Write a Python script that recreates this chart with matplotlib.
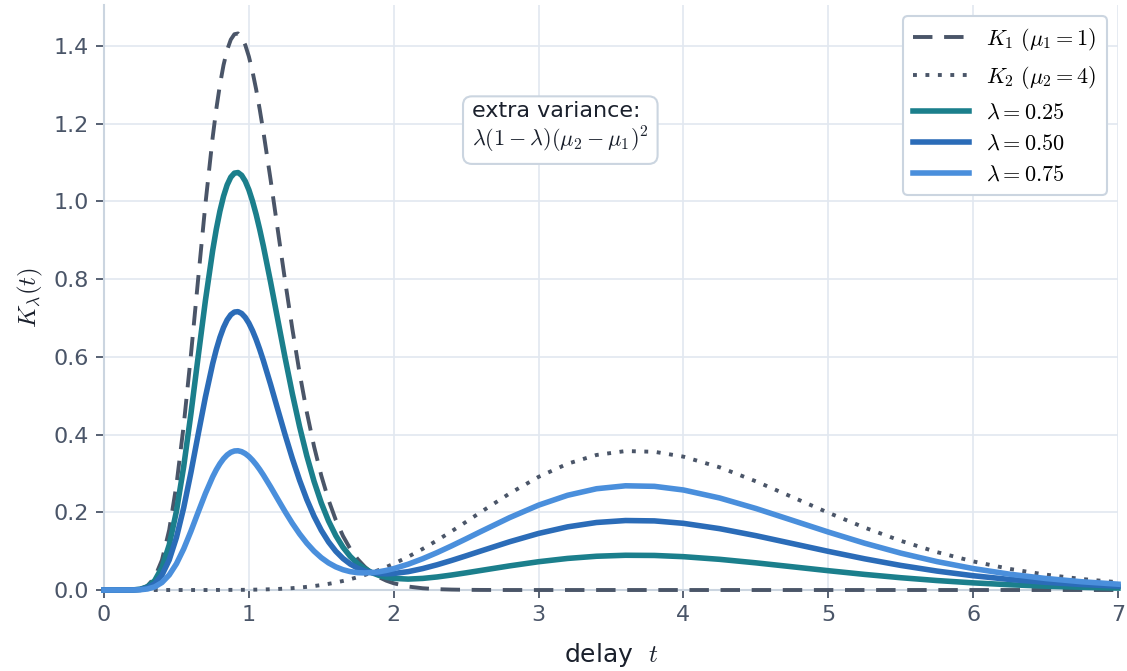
import matplotlib
matplotlib.use('Agg')
import matplotlib.pyplot as plt
import numpy as np

# delay grid and the two kernels
t = [0.0, 0.1, 0.2, 0.25, 0.3, 0.35, 0.4, 0.45, 0.5, 0.55, 0.6, 0.65, 0.7,
     0.75, 0.775, 0.8, 0.825, 0.85, 0.875, 0.9, 0.925, 0.95, 0.975, 1.0,
     1.025, 1.05, 1.075, 1.1, 1.15, 1.2, 1.25, 1.3, 1.35,
     1.4, 1.45, 1.5, 1.55, 1.6, 1.65, 1.7, 1.75, 1.8, 1.85, 1.9, 1.95, 2.0,
     2.1, 2.2, 2.3, 2.4, 2.5, 2.6, 2.8, 3.0, 3.2,
     3.4, 3.6, 3.8, 4.0, 4.25, 4.5, 4.75, 5.0, 5.25, 5.5, 5.75, 6.0, 6.25,
     6.5, 6.75, 7.0]
k1 = [0.0, 0.0, 0.0004, 0.0027, 0.0108, 0.0323, 0.0771, 0.1546, 0.2704,
      0.4233, 0.6050, 0.8009, 0.9932, 1.1643, 1.2372, 1.2995, 1.3505, 1.3895,
      1.4159, 1.4299, 1.4319, 1.4225, 1.4023, 1.3725, 1.3340, 1.2883, 1.2363,
      1.1794, 1.0555, 0.9251, 0.7955, 0.6721, 0.5586, 0.4574,
      0.3693, 0.2943, 0.2316, 0.1802, 0.1388, 0.1058, 0.0798, 0.0598, 0.0443,
      0.0326, 0.0238, 0.0173,
      0.0089, 0.0045, 0.0022, 0.0011, 0.0005, 0.0002, 0.0, 0.0, 0.0,
      0.0, 0.0, 0.0, 0.0, 0.0, 0.0, 0.0, 0.0, 0.0, 0.0, 0.0, 0.0, 0.0,
      0.0, 0.0, 0.0]
k2 = [0.0, 0.0, 0.0, 0.0, 0.0, 0.0, 0.0, 0.0, 0.0, 0.0, 0.0, 0.0, 0.0,
      0.0, 0.0001, 0.0001, 0.0002, 0.0002, 0.0003, 0.0003, 0.0004, 0.0004,
      0.0005, 0.0007, 0.0008, 0.0010, 0.0012, 0.0014, 0.0020,
      0.0027, 0.0036, 0.0048, 0.0063, 0.0081, 0.0102, 0.0128, 0.0158, 0.0193,
      0.0233, 0.0278, 0.0329, 0.0387, 0.0450, 0.0519, 0.0594, 0.0676,
      0.0856, 0.1058, 0.1278, 0.1512, 0.1755, 0.2002, 0.2483, 0.2911, 0.3249,
      0.3474, 0.3575, 0.3556, 0.3431, 0.3157, 0.2797, 0.2394, 0.1989, 0.1607,
      0.1266, 0.0975, 0.0736, 0.0544, 0.0396, 0.0283, 0.0200]
lambdas = [0.25, 0.50, 0.75]
lam_colors = ['#1b7f8c', '#2b6cb8', '#4a8fdc']

plt.rcParams['mathtext.fontset'] = 'cm'
plt.rcParams['font.family'] = 'DejaVu Sans'

fig = plt.figure(figsize=(11.27, 6.71), dpi=100)
ax = fig.add_axes([0.0923, 0.1207, 0.8997, 0.8718])

grey = '#4a5568'
ax.plot(t, k1, color=grey, lw=2.8, ls=(0, (5, 3)), label=r'$K_1\ (\mu_1=1)$',
        clip_on=False, zorder=3, dash_joinstyle='round')
ax.plot(t, k2, color=grey, lw=2.8, ls=(0, (1, 2.2)), label=r'$K_2\ (\mu_2=4)$',
        clip_on=False, zorder=3, dash_joinstyle='round')
k1a = np.array(k1)
k2a = np.array(k2)
for lam, c in zip(lambdas, lam_colors):
    mix = (1 - lam) * k1a + lam * k2a
    ax.plot(t, mix, color=c, lw=4.0, label=r'$\lambda=%.2f$' % lam,
            clip_on=False, zorder=4, solid_joinstyle='round')

ax.set_xlim(0, 7)
ax.set_ylim(0, 1.505)
ax.set_yticks([0.0, 0.2, 0.4, 0.6, 0.8, 1.0, 1.2, 1.4])
ax.yaxis.set_major_formatter(matplotlib.ticker.FormatStrFormatter('%.1f'))
ax.grid(True, color='#e2e8f0', lw=1.2)
ax.set_axisbelow(True)
for s in ['top', 'right']:
    ax.spines[s].set_visible(False)
for s in ['left', 'bottom']:
    ax.spines[s].set_color('#cbd5e0')
    ax.spines[s].set_linewidth(1.5)
ax.tick_params(colors=grey, labelsize=16, length=6, width=1.3, pad=5)

ax.set_xlabel(r'delay  $t$', fontsize=18, color='#1a202c', labelpad=11)
ax.set_ylabel(r'$K_\lambda(t)$', fontsize=18, color='#1a202c', labelpad=6)

ax.text(0.45, 0.79, 'extra variance:\n' + r'$\lambda(1-\lambda)(\mu_2-\mu_1)^2$',
        transform=ax.transAxes, ha='center', va='center', fontsize=16,
        color='#1a202c', multialignment='left',
        bbox=dict(boxstyle='round,pad=0.4', fc='white', ec='#cbd5e0', lw=1.5))

leg = ax.legend(loc='upper right', fontsize=16, frameon=True, fancybox=True,
                handlelength=2.5, borderpad=0.45, labelspacing=0.5)
leg.get_frame().set_edgecolor('#cbd5e0')
leg.get_frame().set_linewidth(1.5)
leg.get_frame().set_alpha(1.0)

plt.savefig('out.png', dpi=100)
